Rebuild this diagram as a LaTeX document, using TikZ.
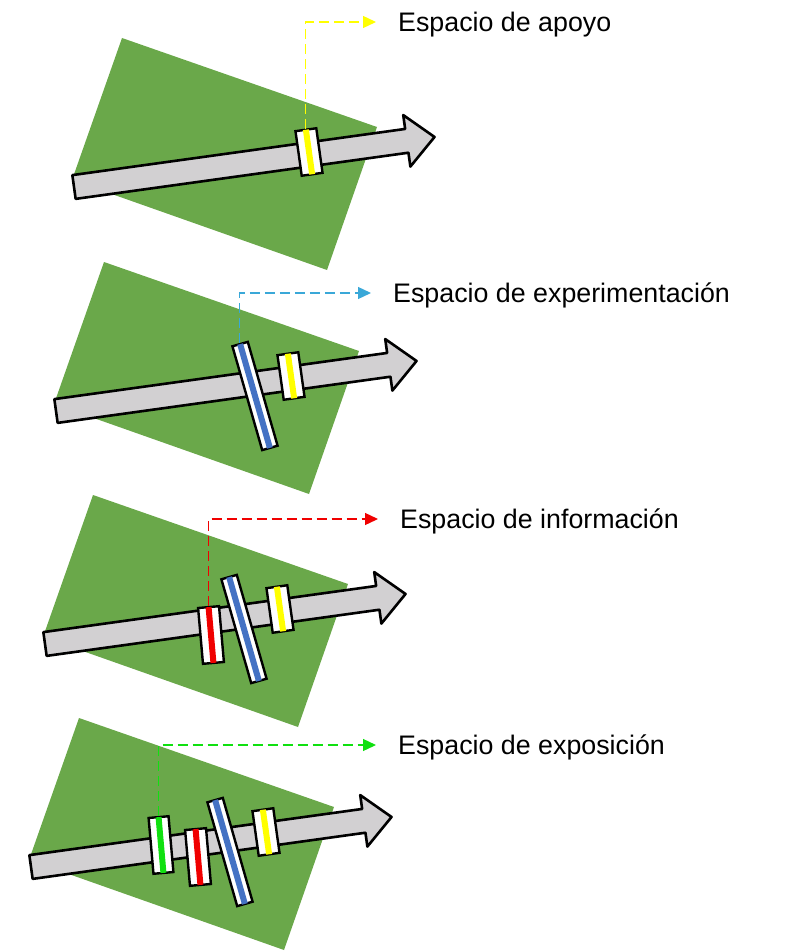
\documentclass[tikz,border=0pt]{standalone}
\usepackage{fontspec}
\setmainfont{Liberation Sans}
\usepackage{tikz}
\usetikzlibrary{arrows.meta}
\definecolor{pgrass}  {HTML}{6AA84A}
\definecolor{pshaft}  {HTML}{D2D0D2}
\definecolor{pblue}   {HTML}{4472C4}
\definecolor{pyellow} {HTML}{FFFF00}
\definecolor{pred}    {HTML}{F00000}
\definecolor{pgreen}  {HTML}{10E010}
\definecolor{pcyan}   {HTML}{3AA8D8}

\begin{document}
\begin{tikzpicture}[x=1pt, y=-1pt,
  grass/.style={fill=pgrass},
  shaft/.style={draw=black, fill=pshaft, line width=2.6pt, line join=round},
  ring/.style={draw=black, fill=white, line width=2.4pt, inner sep=0pt,
               minimum width=21pt, minimum height=45pt},
  tall/.style={ring, minimum width=21pt, minimum height=56pt, rotate=5},
  bar/.style={ring, minimum width=16pt, minimum height=108pt, rotate=16},
  stripe/.style={line width=6pt, shorten <=1.2pt, shorten >=1.2pt},
  lead/.style={dash pattern=on 10pt off 5pt, line width=1.3pt,
               -{Triangle[length=13pt,width=12pt]}, shorten >=22pt},
  lab/.style={anchor=west, inner sep=0pt, text height=19pt, text depth=0pt,
              font=\fontsize{26.8}{30}\selectfont}]
  \useasboundingbox (0,0) rectangle (789,952);

  % sheets and arrows
  \foreach \dx/\dy in {0/0, -18/224, -29/457, -43/680}
    {\begin{scope}[shift={(\dx,\dy)}]
       \fill[grass] (122,38) -- (377,127) -- (327,270) -- (72,180) -- cycle;
       \draw[shaft, shift={(74,187)}, rotate=7.9]
         (0,-12) -- (336,-12) -- (336,-26) -- (364,0) -- (336,26)
         -- (336,12) -- (0,12) -- cycle;
     \end{scope}}

  % panel 1
  \node[ring, rotate=8] (yellow1) at (309,152) {};
  \draw[stripe, pyellow] (yellow1.north) -- (yellow1.south);

  % panel 2
  \node[bar] (blue2) at (255,396) {};
  \draw[stripe, pblue] (blue2.north) -- (blue2.south);
  \node[ring, rotate=8] (yellow2) at (291,376) {};
  \draw[stripe, pyellow] (yellow2.north) -- (yellow2.south);

  % panel 3
  \node[tall] (red3) at (211,635) {};
  \draw[stripe, pred] (red3.north) -- (red3.south);
  \node[bar] (blue3) at (244,629) {};
  \draw[stripe, pblue] (blue3.north) -- (blue3.south);
  \node[ring, rotate=8] (yellow3) at (280,609) {};
  \draw[stripe, pyellow] (yellow3.north) -- (yellow3.south);

  % panel 4
  \node[tall, minimum width=20pt] (green4) at (161,845) {};
  \draw[stripe, pgreen] (green4.north) -- (green4.south);
  \node[tall] (red4) at (198,857) {};
  \draw[stripe, pred] (red4.north) -- (red4.south);
  \node[bar] (blue4) at (230,852) {};
  \draw[stripe, pblue] (blue4.north) -- (blue4.south);
  \node[ring, rotate=8] (yellow4) at (266,832) {};
  \draw[stripe, pyellow] (yellow4.north) -- (yellow4.south);

  % labels
  \node[lab] (apoyo) at (398,22) {Espacio de apoyo};
  \node[lab] (experimentacion) at (393,293) {Espacio de experimentación};
  \node[lab] (informacion) at (400,519) {Espacio de información};
  \node[lab] (exposicion) at (398,745) {Espacio de exposición};

  \draw[lead, pyellow] (yellow1.north) |- (apoyo.west);
  \draw[lead, pcyan] (blue2.north) |- (experimentacion.west);
  \draw[lead, pred] (red3.north) |- (informacion.west);
  \draw[lead, pgreen] (green4.north) |- (exposicion.west);
\end{tikzpicture}
\end{document}
